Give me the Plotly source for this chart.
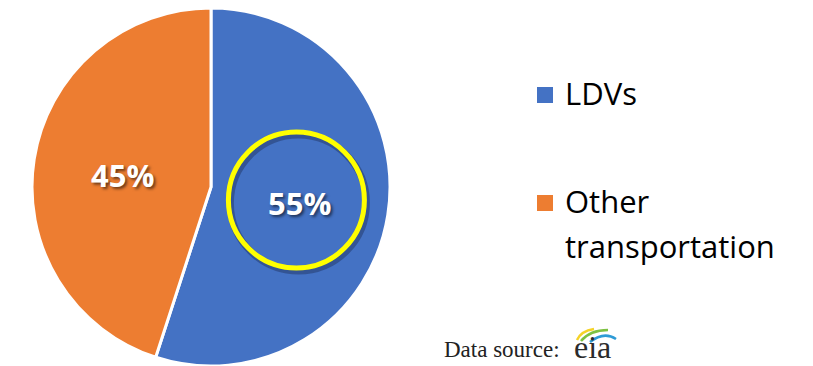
import math
import plotly.graph_objects as go

# Transportation energy use split
categories = ["LDVs", "Other transportation"]
shares = [55, 45]
colors = ["#4472C4", "#ED7D31"]
legend_lines = [["LDVs"], ["Other", "transportation"]]

W, H = 813, 366

# Pie placement in pixels
CX, CY, R = 211, 187, 179


def px(x):
    return x / W


def py(y):
    return 1 - y / H


fig = go.Figure()
fig.add_trace(go.Pie(
    labels=categories,
    values=shares,
    sort=False,
    direction="clockwise",
    rotation=0,
    marker=dict(colors=colors, line=dict(color="white", width=3)),
    textinfo="none",
    hoverinfo="label+percent",
    showlegend=False,
    domain=dict(x=[px(CX - R), px(CX + R)], y=[py(CY + R), py(CY - R)]),
))

# Percentage labels at the middle of each slice
total = sum(shares)
start = 0.0
label_pos = []
for v in shares:
    frac = v / total
    mid = (start + frac / 2) * 2 * math.pi
    lx = CX + 0.5 * R * math.sin(mid)
    ly = CY - 0.5 * R * math.cos(mid)
    label_pos.append((lx, ly))
    fig.add_annotation(
        x=px(lx), y=py(ly + 2), xref="paper", yref="paper",
        text=f"{frac * 100:.0f}%", showarrow=False,
        font=dict(family="Open Sans", size=31, color="white", weight="bold",
                  shadow="2px 2px 3px rgba(0,0,0,0.55)"),
        xanchor="center", yanchor="middle",
    )
    start += frac

# Yellow highlight ring around the LDV share
hx, hy = label_pos[0][0] - 3, label_pos[0][1] - 1
ring_r = 68
fig.add_shape(type="circle", xref="paper", yref="paper",
              x0=px(hx - ring_r + 2), x1=px(hx + ring_r + 2),
              y0=py(hy + ring_r + 3), y1=py(hy - ring_r + 3),
              line=dict(color="rgba(20,30,60,0.35)", width=7))
fig.add_shape(type="circle", xref="paper", yref="paper",
              x0=px(hx - ring_r), x1=px(hx + ring_r),
              y0=py(hy + ring_r), y1=py(hy - ring_r),
              line=dict(color="#FFFF00", width=5))

# Legend drawn as colored squares and labels
legend_rows = [[92.5], [200.5, 245.5]]
for color, lines, rows in zip(colors, legend_lines, legend_rows):
    sq_y = rows[0] + 2.5
    fig.add_shape(type="rect", xref="paper", yref="paper",
                  x0=px(537), x1=px(553), y0=py(sq_y + 8), y1=py(sq_y - 8),
                  fillcolor=color, line=dict(width=0))
    for txt, yy in zip(lines, rows):
        fig.add_annotation(
            x=px(563), y=py(yy), xref="paper", yref="paper",
            text=txt, showarrow=False, xanchor="left", yanchor="middle",
            font=dict(family="Open Sans", size=31, color="black"),
        )

# Data source credit
fig.add_annotation(
    x=px(442), y=py(349), xref="paper", yref="paper",
    text="Data source:", showarrow=False, xanchor="left", yanchor="middle",
    font=dict(family="Liberation Serif", size=23, color="#222222"),
)
fig.add_annotation(
    x=px(572), y=py(347), xref="paper", yref="paper",
    text="eia", showarrow=False, xanchor="left", yanchor="middle",
    font=dict(family="Liberation Serif", size=32, color="#2b2b2b"),
)


def arc(p0, c, p1):
    return (f"M {px(p0[0])},{py(p0[1])} Q {px(c[0])},{py(c[1])} "
            f"{px(p1[0])},{py(p1[1])}")


for (p0, c, p1), col in [
    (((577, 340), (581, 331), (594, 329)), "#F5D327"),
    (((581, 341), (590, 330), (608, 330)), "#7DC142"),
    (((590, 342), (604, 331), (616, 339)), "#2E9BD6"),
]:
    fig.add_shape(type="path", xref="paper", yref="paper", path=arc(p0, c, p1),
                  line=dict(color=col, width=2.5))

fig.update_layout(
    width=W, height=H,
    margin=dict(l=0, r=0, t=0, b=0),
    paper_bgcolor="white", plot_bgcolor="white",
    showlegend=False,
)

fig.write_html("out.html")
